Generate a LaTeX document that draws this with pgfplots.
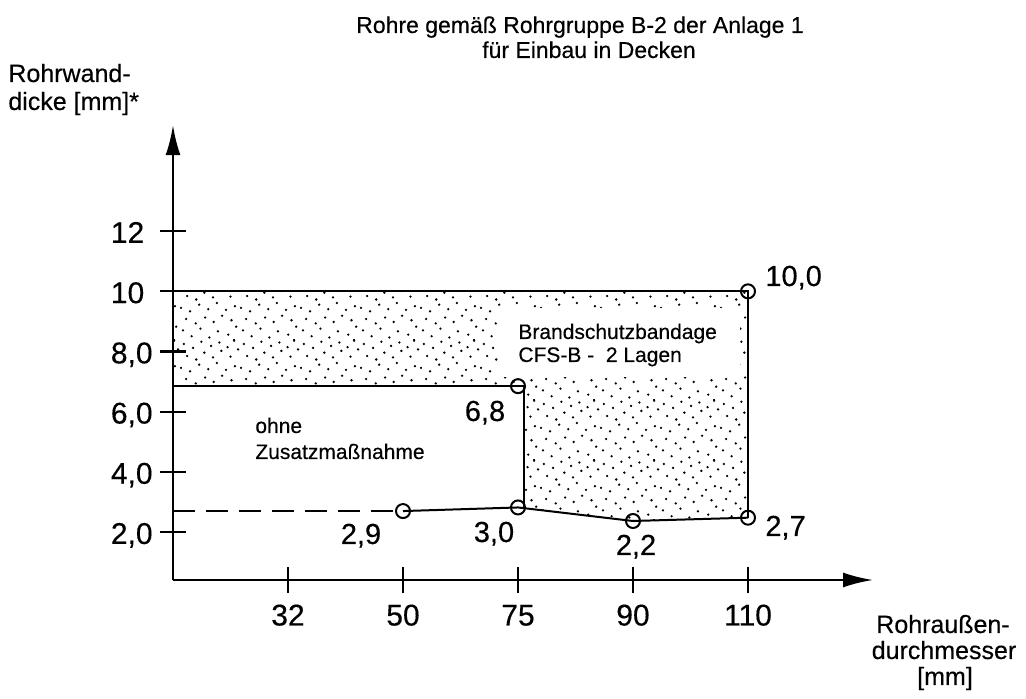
\documentclass[border=0pt]{standalone}
\usepackage{fontspec}
\setmainfont{Liberation Sans}[FakeBold=0.35]
\usepackage{pgfplots}
\pgfplotsset{compat=1.18}
\usetikzlibrary{arrows.meta,patterns}

% irregular stipple texture
\newcommand\sd[2]{\pgfpathcircle{\pgfpoint{1.25*#1pt}{1.25*#2pt}}{0.65pt}}
\pgfdeclarepatternformonly{stipple}{\pgfqpoint{0pt}{0pt}}{\pgfqpoint{30pt}{30pt}}{\pgfqpoint{30pt}{30pt}}{%
  \sd{1.2}{3.5}\sd{4.7}{1.1}\sd{8.3}{4.2}\sd{11.9}{0.6}\sd{15.4}{3.1}\sd{19.6}{1.8}\sd{22.8}{5.0}
  \sd{2.5}{8.1}\sd{6.4}{6.3}\sd{10.2}{8.7}\sd{13.7}{6.9}\sd{17.1}{9.4}\sd{20.9}{7.6}
  \sd{0.4}{12.6}\sd{4.1}{11.2}\sd{7.8}{13.9}\sd{11.5}{12.1}\sd{15.0}{14.6}\sd{18.7}{11.8}\sd{22.3}{13.3}
  \sd{2.9}{17.4}\sd{6.6}{16.0}\sd{9.9}{18.8}\sd{13.4}{16.9}\sd{16.8}{19.5}\sd{20.5}{17.2}\sd{23.6}{20.1}
  \sd{1.6}{22.3}\sd{5.3}{20.7}\sd{8.7}{23.2}\sd{12.6}{21.5}\sd{16.0}{22.9}\sd{19.3}{21.0}\sd{22.0}{23.6}
  \pgfusepath{fill}}

\begin{document}
\begin{tikzpicture}
\path[use as bounding box] (-86.5pt,-59.5pt) rectangle (426.5pt,290pt);
\begin{axis}[
    at={(0pt,0pt)}, anchor=south west,
    scale only axis, width=350pt, height=227.4pt,
    xmin=0, xmax=6.087, ymin=0.41, ymax=15.52,
    axis lines=left,
    axis line style={line width=1.2pt, -{Latex[length=15pt,width=7.5pt]}},
    xtick={1,2,3,4,5}, xticklabels={32,50,75,90,110},
    ytick={2,4,6,8,10,12}, yticklabels={{2,0},{4,0},{6,0},{8,0},10,12},
    tick align=center, major tick length=13pt,
    tick style={line width=1.1pt, black},
    ticklabel style={font=\fontsize{15}{18}\selectfont, inner sep=0pt},
    xticklabel style={anchor=base, yshift=-16.25pt},
    yticklabel style={anchor=base west, xshift=-24.75pt, yshift=-5.9pt},
    /pgf/number format/assume math mode=true,
    clip=false,
]
% stippled area: Brandschutzbandage
\addplot[draw=none, pattern=stipple] coordinates {
    (0,10) (5,10) (5,2.48) (4,2.37) (3.05,2.81) (3.05,6.85) (0,6.85)
} -- cycle;
% white box behind the label
\addplot[draw=none, fill=white] coordinates {
    (2.83,9.45) (4.93,9.45) (4.93,7.15) (2.83,7.15)
} -- cycle;
% outlines
\addplot[line width=1pt] coordinates {(0,10) (5,10) (5,2.48)};
\addplot[line width=1pt] coordinates {(0,6.85) (3.05,6.85) (3.05,2.81)};
% extension below 50 mm
\addplot[line width=1pt, dash pattern=on 11pt off 5.5pt] coordinates {(0,2.70) (2,2.70)};
% minimum wall thickness
\addplot[line width=1pt, mark=o, mark size=3.5pt, mark options={solid, fill=white}]
    coordinates {(2,2.70) (3,2.82) (4,2.37) (5,2.48)};
\addplot[only marks, mark=o, mark size=3.5pt, line width=1pt, mark options={fill=white}]
    coordinates {(3,6.85) (5,10)};
\end{axis}
\begin{scope}[shift={(-86.5pt,290pt)}, x=0.5pt, y=-0.5pt]
\begin{scope}[font=\fontsize{11.5}{12.5}\selectfont]
\node[anchor=base] at (580,33) {Rohre gemäß Rohrgruppe B-2 der Anlage 1};
\node[anchor=base] at (589,58) {für Einbau in Decken};
\end{scope}
\begin{scope}[font=\fontsize{12.5}{14}\selectfont, inner sep=0pt]
\node[anchor=base west] at (8,82) {Rohrwand-};
\node[anchor=base west] at (8,110) {dicke [mm]*};
\node[anchor=base] at (943,633) {Rohraußen-};
\node[anchor=base] at (944,659) {durchmesser};
\node[anchor=base] at (945,685) {[mm]};
\end{scope}
\begin{scope}[font=\fontsize{14.5}{16}\selectfont, inner sep=0pt]
\node[anchor=base west] at (765,286) {10,0};
\node[anchor=base] at (485,421) {6,8};
\node[anchor=base] at (361,544) {2,9};
\node[anchor=base] at (494,542) {3,0};
\node[anchor=base] at (636,555) {2,2};
\node[anchor=base west] at (765,536) {2,7};
\end{scope}
\begin{scope}[font=\fontsize{10.5}{12}\selectfont, inner sep=0pt]
\node[anchor=base west] at (255,433) {ohne};
\node[anchor=base west] at (255,459) {Zusatzmaßnahme};
\node[anchor=base west] at (518,339) {Brandschutzbandage};
\node[anchor=base west] at (518,362) {CFS-B -\ \ 2 Lagen};
\end{scope}
\end{scope}
\end{tikzpicture}
\end{document}
